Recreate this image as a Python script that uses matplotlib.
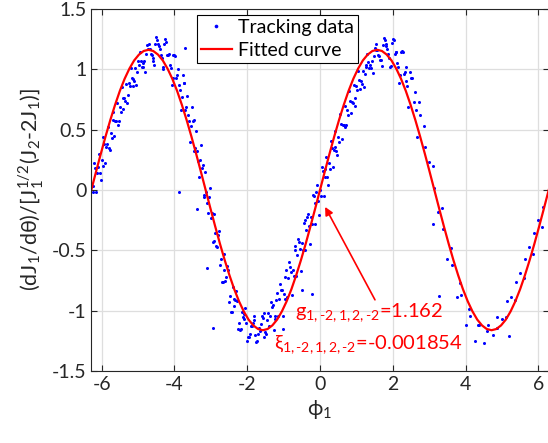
import numpy as np
import matplotlib
matplotlib.use("Agg")
import matplotlib.pyplot as plt

plt.rcParams['font.family'] = ['Lato', 'DejaVu Sans']
plt.rcParams['mathtext.fontset'] = 'custom'
plt.rcParams['mathtext.rm'] = 'Lato'
plt.rcParams['mathtext.it'] = 'Lato:italic'
plt.rcParams['mathtext.fallback'] = 'stixsans'
plt.rcParams['axes.unicode_minus'] = False

# tracking data, read off the picture as strands through the cloud
# (each strand: first phi and a step of 0.25)
s1_y = [0.03, 0.25, 0.47, 0.69, 0.89, 1.07, 1.20, 1.27, 1.25, 1.12, 0.89, 0.57, 0.18,
        -0.23, -0.62, -0.93, -1.15, -1.25, -1.26, -1.18, -1.04, -0.86, -0.66, -0.44, -0.22,
        0.00, 0.22, 0.44, 0.66, 0.86, 1.04, 1.18, 1.26, 1.25, 1.15, 0.93, 0.62, 0.23,
        -0.18, -0.57, -0.89, -1.12, -1.25, -1.27, -1.20, -1.07, -0.89, -0.69, -0.47, -0.25, -0.03]
s2_y = [0.22, 0.44, 0.65, 0.85, 1.01, 1.14, 1.21, 1.21, 1.12, 0.93, 0.66, 0.32, -0.06,
        -0.43, -0.76, -1.01, -1.16, -1.22, -1.19, -1.08, -0.91, -0.72, -0.50, -0.27, -0.04,
        0.19, 0.41, 0.63, 0.82, 0.99, 1.13, 1.21, 1.21, 1.13, 0.96]
s3_y = [-0.02, 0.22, 0.45, 0.67, 0.86, 1.02, 1.13, 1.17, 1.13, 1.00, 0.78, 0.49, 0.15,
        -0.20, -0.53, -0.80, -1.01, -1.13, -1.17, -1.13, -1.04, -0.89, -0.71, -0.50, -0.28,
        -0.05, 0.19, 0.42, 0.64, 0.84, 1.01, 1.12, 1.17, 1.14, 1.02, 0.81, 0.53, 0.20,
        -0.15, -0.48, -0.77, -0.99, -1.12, -1.17, -1.14, -1.05, -0.91, -0.73, -0.53, -0.31]
s4_y = [0.19, 0.38, 0.57, 0.74, 0.90, 1.02, 1.09, 1.09, 1.01, 0.83, 0.57, 0.24, -0.11,
        -0.46, -0.75, -0.96, -1.07, -1.10, -1.04, -0.93, -0.78, -0.60, -0.41, -0.22, -0.02,
        0.17, 0.36, 0.54, 0.72, 0.88, 1.01, 1.08, 1.09, 1.02, 0.86]
s5_y = [0.14, 0.35, 0.54, 0.72, 0.87, 0.98, 1.04, 1.02, 0.93, 0.77, 0.53, 0.25, -0.06,
        -0.37, -0.63, -0.84, -0.98, -1.04, -1.02, -0.95, -0.83, -0.68, -0.49, -0.30, -0.09,
        0.11, 0.32, 0.52, 0.70, 0.85, 0.97, 1.03, 1.03, 0.95]
s6_y = [-0.02, 0.20, 0.43, 0.65, 0.86, 1.04, 1.17, 1.24, 1.23, 1.11, 0.89, 0.58, 0.21,
        -0.19, -0.57, -0.88, -1.10, -1.22, -1.25, -1.19, -1.07, -0.90, -0.71, -0.50, -0.28,
        -0.05, 0.17, 0.40, 0.62, 0.83, 1.02, 1.16, 1.24, 1.24, 1.14, 0.93]
s7_y = [0.18, 0.38, 0.58, 0.76, 0.93, 1.07, 1.17, 1.19, 1.12, 0.95, 0.69, 0.35, -0.04,
        -0.42, -0.76, -1.01, -1.15, -1.19, -1.14, -1.02, -0.85, -0.66, -0.46, -0.25, -0.05,
        0.16, 0.35, 0.55, 0.74, 0.91, 1.06, 1.16, 1.19, 1.14, 0.98, 0.73]
s8_y = [0.14, 0.36, 0.57, 0.76, 0.92, 1.05, 1.12, 1.12, 1.04, 0.87, 0.62, 0.32, -0.02,
        -0.36, -0.66, -0.90, -1.05, -1.13, -1.11, -1.04, -0.90, -0.73, -0.54, -0.33, -0.11,
        0.11, 0.33, 0.54, 0.73, 0.90, 1.04, 1.11, 1.13, 1.05, 0.90, 0.66, 0.36, 0.02,
        -0.32, -0.62, -0.87, -1.04, -1.12, -1.12, -1.05, -0.92, -0.76, -0.57, -0.36, -0.14]
s9_y = [0.30, 0.52, 0.72, 0.88, 1.01, 1.07, 1.07, 1.00, 0.87, 0.66, 0.40, 0.11, -0.19,
        -0.47, -0.72, -0.91, -1.03, -1.08, -1.06, -0.97, -0.83, -0.64, -0.43, -0.20, 0.04,
        0.27, 0.49, 0.70, 0.87, 0.99, 1.07, 1.08, 1.02, 0.89, 0.69, 0.44]
s10_y = [0.08, 0.33, 0.57, 0.79, 0.98, 1.13, 1.21, 1.21, 1.12, 0.95, 0.69, 0.37, 0.02,
         -0.34, -0.66, -0.92, -1.10, -1.20, -1.22, -1.16, -1.04, -0.87, -0.67, -0.45, -0.21,
         0.04, 0.29, 0.54, 0.76, 0.96, 1.11, 1.20, 1.22, 1.14, 0.98, 0.73]
s_start = [-6.25, -6.20, -6.15, -6.10, -6.05, -6.225, -6.175, -6.125, -6.075, -6.025]
s_step = 0.25

# stray points
out_phi = [-3.87, -3.71, -3.37, -3.11, -2.93, -1.01, -0.49, -0.23, 3.10, 3.28, 5.20]
out_y = [-0.02, 1.18, -0.16, -0.65, -1.14, -1.15, -0.83, -0.86, -0.28, -0.88, -1.21]

# fitted curve, one period sampled every pi/24, repeated twice
fit_period = [0, .152, .301, .445, .581, .707, .822, .922, 1.006, 1.074, 1.122, 1.152, 1.162,
              1.152, 1.122, 1.074, 1.006, .922, .822, .707, .581, .445, .301, .152, 0,
              -.152, -.301, -.445, -.581, -.707, -.822, -.922, -1.006, -1.074, -1.122, -1.152,
              -1.162, -1.152, -1.122, -1.074, -1.006, -.922, -.822, -.707, -.581, -.445, -.301,
              -.152, 0]
fit_y = fit_period + fit_period[1:]
fit_phi = np.linspace(-2 * np.pi, 2 * np.pi, len(fit_y))

strands = [s1_y, s2_y, s3_y, s4_y, s5_y, s6_y, s7_y, s8_y, s9_y, s10_y]
track_phi, track_y = [], []
for start, ys in zip(s_start, strands):
    track_phi.extend(start + s_step * np.arange(len(ys)))
    track_y.extend(ys)
track_phi = np.concatenate([track_phi, out_phi])
track_y = np.concatenate([track_y, out_y])

fig = plt.figure(figsize=(5.48, 4.43), dpi=100)
ax = fig.add_axes([0.1666, 0.1625, 0.8347, 0.8172])

ax.plot(track_phi, track_y, ls="none", marker="o", ms=2.2, mec="none", mfc="blue",
        label="Tracking data")
ax.plot(fit_phi, fit_y, color="red", lw=1.6, label="Fitted curve")

ax.set_xlim(-2 * np.pi, 2 * np.pi)
ax.set_ylim(-1.5, 1.5)
ax.set_xticks([-6, -4, -2, 0, 2, 4, 6])
ax.set_yticks([-1.5, -1, -0.5, 0, 0.5, 1, 1.5])
ax.set_yticklabels(["-1.5", "-1", "-0.5", "0", "0.5", "1", "1.5"])
ax.grid(True, color="#dedede", lw=0.9)
ax.set_axisbelow(True)
ax.tick_params(direction="in", top=True, right=True, length=4, width=0.8,
               labelsize=14, colors="#262626")
for sp in ax.spines.values():
    sp.set_color("#262626")
    sp.set_linewidth(0.8)

ax.set_xlabel(r"$\mathrm{\phi}_1$", fontsize=15, color="#262626")
ax.set_ylabel(r"(dJ$_1$/d$\mathrm{\theta}$)/[J$_1^{1/2}$(J$_2$-2J$_1$)]", fontsize=15.5,
              color="#262626")

leg = ax.legend(loc="upper left", bbox_to_anchor=(0.231, 0.983), fancybox=False,
                edgecolor="black", framealpha=1, fontsize=14, handlelength=1.6,
                handletextpad=0.3, borderpad=0.2, labelspacing=0.3, borderaxespad=0,
                markerscale=1.2, numpoints=1)
leg.get_frame().set_linewidth(0.8)

ax.annotate("", xy=(0.14, -0.14), xytext=(1.51, -0.91),
            arrowprops=dict(arrowstyle="-|>", color="red", lw=1.2, mutation_scale=12,
                            shrinkA=0, shrinkB=0))
ax.text(1.34, -0.92,
        r"$\mathrm{g}_{1,‐2,1,2,‐2}$=1.162" + "\n"
        + r"$\mathrm{\xi}_{1,‐2,1,2,‐2}$=-0.001854",
        color="red", fontsize=14.5, ha="center", va="top", multialignment="center",
        linespacing=1.65)

fig.savefig("out.png", dpi=100)
